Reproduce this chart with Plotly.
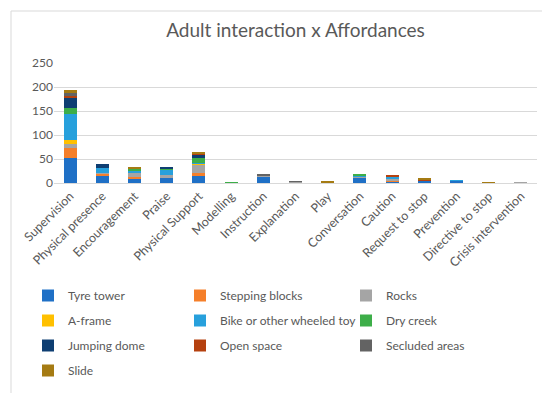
import plotly.graph_objects as go

categories = ["Supervision", "Physical presence", "Encouragement", "Praise", "Physical Support",
              "Modelling", "Instruction", "Explanation", "Play", "Conversation", "Caution",
              "Request to stop", "Prevention", "Directive to stop", "Crisis intervention"]

tyre_tower      = [53, 16, 10, 10, 15, 0, 14, 2, 0, 12, 4, 5, 5, 0, 0]
stepping_blocks = [19, 4, 2, 0, 5, 0, 0, 0, 0, 0, 2, 0, 0, 0, 0]
rocks           = [9, 1, 10, 6, 18, 0, 2, 1, 0, 1, 3, 1, 0, 0, 2]
a_frame         = [9, 0, 0, 0, 3, 0, 0, 0, 0, 0, 0, 0, 0, 1, 0]
bike            = [54, 10, 2, 13, 1, 0, 0, 0, 0, 2, 5, 0, 1, 0, 0]
dry_creek       = [12, 0, 6, 1, 10, 1, 0, 0, 0, 3, 0, 0, 0, 0, 0]
jumping_dome    = [22, 8, 1, 2, 8, 0, 0, 0, 0, 0, 0, 0, 0, 0, 0]
open_space      = [5, 0, 0, 0, 1, 0, 0, 0, 1, 0, 1, 2, 0, 0, 0]
secluded_areas  = [4, 0, 0, 0, 0, 0, 2, 1, 1, 0, 0, 0, 0, 0, 0]
slide           = [7, 0, 2, 0, 2, 0, 0, 0, 3, 0, 0, 2, 0, 1, 0]

series_names = ["Tyre tower", "Stepping blocks", "Rocks", "A-frame", "Bike or other wheeled toy",
                "Dry creek", "Jumping dome", "Open space", "Secluded areas", "Slide"]
series_values = [tyre_tower, stepping_blocks, rocks, a_frame, bike, dry_creek,
                 jumping_dome, open_space, secluded_areas, slide]
colors = ["#1F70C6", "#F57F2A", "#A5A5A5", "#FFC000", "#27A0DC", "#3DAE49",
          "#0E3E72", "#B5410F", "#636363", "#A57B13"]
legend_cols = ["legend", "legend2", "legend3", "legend", "legend2", "legend3",
               "legend", "legend2", "legend3", "legend"]

fig = go.Figure()
for name, vals, col, lg in zip(series_names, series_values, colors, legend_cols):
    fig.add_trace(go.Bar(name=name, x=categories, y=vals, legend=lg, legendgroup=name,
                         marker=dict(color=col, line=dict(width=0))))

L, R, T, B = 46, 21, 55, 218
W, H = 550, 393
pw, ph = W - L - R, H - T - B
base = H - B

def leg(x_px):
    return dict(orientation="v", x=(x_px - L) / pw, xanchor="left",
                y=(base - 273) / ph, yanchor="top", itemwidth=30,
                tracegroupgap=6, bgcolor="rgba(0,0,0,0)",
                font=dict(size=12, color="#595959"), traceorder="grouped")

fig.update_layout(
    width=W, height=H,
    barmode="stack", bargap=0.6,
    paper_bgcolor="white", plot_bgcolor="white",
    margin=dict(l=L, r=R, t=T, b=B, autoexpand=False),
    font=dict(family="Lato, sans-serif", color="#595959", size=12),
    title=dict(text="Adult interaction x Affordances", x=0.5, xanchor="center", xref="paper",
               y=1 - 22 / H, yanchor="middle", font=dict(size=19, color="#595959")),
    xaxis=dict(tickangle=-45, showline=True, linecolor="#D9D9D9", ticks="",
               tickfont=dict(size=12.5, color="#595959"), showgrid=False),
    yaxis=dict(range=[0, 250], dtick=50, gridcolor="#D9D9D9", showline=False,
               zeroline=False, tickfont=dict(size=12, color="#595959"), ticks=""),
    legend=leg(20), legend2=leg(172), legend3=leg(338),
    shapes=[dict(type="rect", xref="paper", yref="paper",
                 x0=(3 - L) / pw, x1=(547 - L) / pw, y0=(base - 390) / ph, y1=(base - 3) / ph,
                 line=dict(color="#D9D9D9", width=1), fillcolor="rgba(0,0,0,0)", layer="below")],
)

fig.write_html("out.html")
